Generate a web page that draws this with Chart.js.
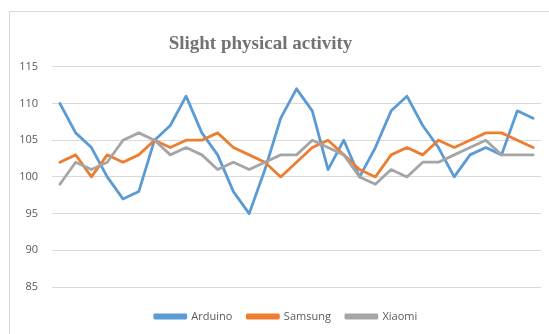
<!DOCTYPE html>
<html>
<head>
<meta charset="utf-8">
<script src="https://cdn.jsdelivr.net/npm/chart.js@4.4.0/dist/chart.umd.min.js"></script>
<style>
  html, body { margin: 0; padding: 0; background: #fff; overflow: hidden; }
  #frame { position: absolute; left: 9px; top: 11px; width: 600px; height: 400px; border: 1px solid #d9d9d9; }
  #wrap { position: absolute; left: 0; top: 0; width: 549px; height: 334px; }
</style>
</head>
<body>
<div id="frame"></div>
<div id="wrap"><canvas id="c" width="549" height="334"></canvas></div>
<script>
// Readings taken over 31 consecutive measurements
const categories = ['1','2','3','4','5','6','7','8','9','10','11','12','13','14','15','16',
                    '17','18','19','20','21','22','23','24','25','26','27','28','29','30','31'];

const arduino = [110,106,104,100,97,98,105,107,111,106,103,98,95,101,108,112,
                 109,101,105,100,104,109,111,107,104,100,103,104,103,109,108];
const samsung = [102,103,100,103,102,103,105,104,105,105,106,104,103,102,100,102,
                 104,105,103,101,100,103,104,103,105,104,105,106,106,105,104];
const xiaomi  = [99,102,101,102,105,106,105,103,104,103,101,102,101,102,103,103,
                 105,104,103,100,99,101,100,102,102,103,104,105,103,103,103];

const yTicks = [85, 90, 95, 100, 105, 110, 115];

// Nudges the title and legend after layout
const boxPlacement = {
  id: 'boxPlacement',
  afterLayout(chart) {
    const t = chart.titleBlock;
    if (t) { t.left = 0; t.right = 521; }
    const l = chart.legend;
    if (l) { l.left = 31; l.right = 541; l.top += 9; l.bottom += 9; }
  }
};

function series(label, data, color, order) {
  return {
    label, data, order,
    borderColor: color,
    backgroundColor: color,
    borderWidth: 2.8,
    pointRadius: 0,
    pointHoverRadius: 0,
    tension: 0,
    fill: false,
    borderJoinStyle: 'round',
    borderCapStyle: 'round'
  };
}

new Chart(document.getElementById('c'), {
  type: 'line',
  data: {
    labels: categories,
    datasets: [
      series('Arduino', arduino, '#5b9bd5', 3),
      series('Samsung', samsung, '#ed7d31', 2),
      series('Xiaomi',  xiaomi,  '#a5a5a5', 1)
    ]
  },
  plugins: [boxPlacement],
  options: {
    responsive: false,
    animation: false,
    devicePixelRatio: 1,
    layout: { padding: { left: 0, right: 8, top: 0, bottom: 11 } },
    plugins: {
      tooltip: { enabled: false },
      title: {
        display: true,
        text: 'Slight physical activity',
        color: '#737373',
        font: { family: '"Liberation Serif", "Times New Roman", serif', size: 19, weight: 'bold' },
        padding: { top: 33, bottom: 11 }
      },
      legend: {
        display: true,
        position: 'bottom',
        labels: {
          color: '#595959',
          font: { family: '"Open Sans", sans-serif', size: 11 },
          boxWidth: 31,
          boxHeight: 3,
          padding: 15,
          sort: (a, b) => a.datasetIndex - b.datasetIndex
        }
      }
    },
    scales: {
      x: {
        display: false,
        offset: true
      },
      y: {
        min: 85,
        max: 115,
        afterFit(axis) { axis.width = 52; },
        afterBuildTicks(axis) { axis.ticks = yTicks.map(v => ({ value: v })); },
        border: { display: false },
        grid: { color: '#d9d9d9', lineWidth: 1, drawTicks: false },
        ticks: {
          color: '#595959',
          padding: 14,
          font: { family: '"Open Sans", sans-serif', size: 11 }
        }
      }
    }
  }
});
</script>
</body>
</html>
